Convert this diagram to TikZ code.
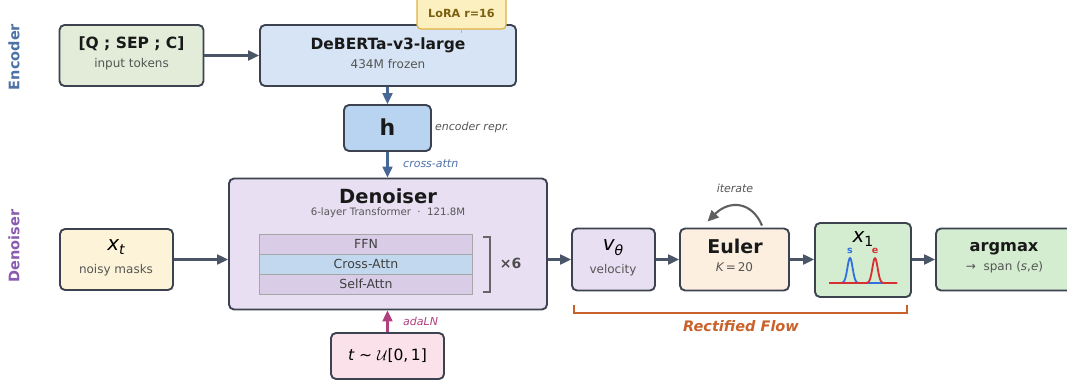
\documentclass[tikz,border=0pt]{standalone}
\usepackage{fontspec}
\setmainfont{DejaVu Sans}
\usetikzlibrary{arrows.meta,calc}

\definecolor{edgecol}{HTML}{3C4250}
\definecolor{arrowcol}{HTML}{4A5568}
\definecolor{enccol}{HTML}{4F72A6}
\definecolor{dencol}{HTML}{8A5CB0}
\definecolor{subgray}{HTML}{555555}
\definecolor{magentacol}{HTML}{B0407F}
\definecolor{orangecol}{HTML}{C8622A}
\definecolor{fillgreen}{HTML}{E2ECD9}
\definecolor{fillblue}{HTML}{D6E4F5}
\definecolor{fillh}{HTML}{B9D4F0}
\definecolor{fillpurple}{HTML}{E8E0F2}
\definecolor{filllayer}{HTML}{D8CCE6}
\definecolor{fillcross}{HTML}{C2D8EE}
\definecolor{fillyellow}{HTML}{FDF3D8}
\definecolor{fillpink}{HTML}{FBE2EA}
\definecolor{fillpeach}{HTML}{FCEFE0}
\definecolor{fillmint}{HTML}{D4ECD0}
\definecolor{lorafill}{HTML}{FDF0C0}
\definecolor{loraedge}{HTML}{E0B040}
\definecolor{loratext}{HTML}{7A6010}
\definecolor{peakblue}{HTML}{3070E0}
\definecolor{peakred}{HTML}{D83030}

\newcommand{\fs}[1]{\fontsize{#1}{#1}\selectfont}

\tikzset{
  box/.style={draw=edgecol, line width=1.9pt, rounded corners=5pt, inner sep=0pt},
  layer/.style={draw=gray!70, line width=0.9pt, minimum width=213, minimum height=20, inner sep=0pt, font=\fs{12.5}, text=black!75},
  title/.style={font=\fs{15.5}\bfseries, text=black!90, inner sep=0pt},
  bigtitle/.style={font=\fs{19.5}\bfseries, text=black!90, inner sep=0pt},
  sub/.style={font=\fs{12}, text=subgray, inner sep=0pt},
  note/.style={font=\fs{11}\itshape, inner sep=0pt},
  mathlab/.style={font=\fs{20}, inner sep=0pt},
  flow/.style={draw=arrowcol, line width=2.2pt, -{Triangle[length=11pt,width=10pt]}},
  side/.style={font=\fs{14.5}\bfseries, rotate=90, inner sep=0pt},
}

\begin{document}
\begin{tikzpicture}[x=1pt,y=-1pt]
\useasboundingbox (0,0) rectangle (1067,388);

% section labels
\node[side, text=enccol] (labEnc) at (14,57) {Encoder};
\node[side, text=dencol] (labDen) at (14,246) {Denoiser};

% encoder row
\node[box, fill=fillgreen, minimum width=144, minimum height=61] (inp) at (131.5,55.5) {};
\node[title] (inpT) at (131.5,44) {[Q ; SEP ; C]};
\node[sub] (inpS) at (131.5,64.5) {input tokens};

\node[box, fill=fillblue, minimum width=256, minimum height=61] (enc) at (388,55.5) {};
\node[title] (encT) at (388,45.5) {DeBERTa-v3-large};
\node[sub] (encS) at (388,64) {434M frozen};

\node[draw=loraedge, fill=lorafill, line width=1.2pt, rounded corners=4pt, minimum width=89, minimum height=37, inner sep=0pt] (lora) at (461.5,10.5) {};
\node[font=\fs{11.2}\bfseries, text=loratext, inner sep=0pt] (loraT) at (461.5,13) {LoRA r=16};
\coordinate (loraTip) at ($(lora.south)+(0,3)$);
\draw[loraedge, line width=1pt] (lora.south) -- (loraTip);

\node[box, fill=fillh, minimum width=87, minimum height=46] (h) at (387.5,128) {};
\node[font=\fs{22}\bfseries, text=black!90, inner sep=0pt] (hT) at (387.5,127) {h};
\node[note, text=subgray, anchor=west] (hN) at (435,127) {encoder repr.};

% denoiser block
\node[box, fill=fillpurple, minimum width=318, minimum height=131] (den) at (388,244) {};
\node[bigtitle] (denT) at (388,196.5) {Denoiser};
\node[font=\fs{10.2}, text=subgray, inner sep=0pt] (denS) at (388,212.5) {6-layer Transformer\ \ ·\ \ 121.8M};

\node[layer, fill=filllayer] (ffn) at (366,244) {FFN};
\node[layer, fill=fillcross] (xattn) at (366,264) {Cross-Attn};
\node[layer, fill=filllayer] (sattn) at (366,284) {Self-Attn};
\draw[gray!80!black, line width=1.4pt] (483,237) -- (490,237) -- (490,292) -- (483,292);
\node[font=\fs{14}\bfseries, text=black!70, inner sep=0pt] (times) at (510.5,263) {×6};

\node[box, fill=fillyellow, minimum width=113, minimum height=61] (xt) at (116.5,259.5) {};
\node[mathlab] (xtT) at (116,247) {\itshape x\raisebox{-0.4ex}{\fs{14}t}};
\node[sub] (xtS) at (116,270) {noisy masks};

\node[box, fill=fillpink, minimum width=113, minimum height=46] (tb) at (387.5,356) {};
\node[font=\fs{15.5}, inner sep=0pt] (tbT) at (387.5,356) {\itshape t\upshape\ ∼\ $\mathcal{U}$[0,\,1]};

% flow chain
\node[box, fill=fillpurple, minimum width=83, minimum height=62] (vel) at (613.5,259.5) {};
\node[mathlab] (velT) at (613,247.5) {\itshape v\raisebox{-0.4ex}{\fs{14}θ}};
\node[sub] (velS) at (613,270) {velocity};

\node[box, fill=fillpeach, minimum width=109, minimum height=62] (euler) at (734.5,259.5) {};
\node[font=\fs{19}\bfseries, text=black!90, inner sep=0pt] (eulerT) at (735,246.5) {Euler};
\node[sub] (eulerS) at (734.5,267.5) {\itshape K\upshape\,=\,20};

\node[box, fill=fillmint, minimum width=96, minimum height=74] (xone) at (863,260) {};
\node[mathlab] (xoneT) at (863,239) {\itshape x\upshape\raisebox{-0.45ex}{\fs{14}1}};
\draw[peakblue, line width=1.8pt] plot[domain=829:897, samples=120] (\x, {283 - 25*exp(-((\x-850)^2)/13.5)});
\draw[peakred, line width=1.8pt] plot[domain=829:897, samples=120] (\x, {283 - 25*exp(-((\x-875)^2)/13.5)});
\node[font=\fs{9.5}\bfseries, text=peakblue, inner sep=0pt] (sLab) at (850,250.5) {s};
\node[font=\fs{9.5}\bfseries, text=peakred, inner sep=0pt] (eLab) at (875,250.5) {e};

\node[box, fill=fillmint, minimum width=137, minimum height=62] (amax) at (1004.5,259.5) {};
\node[font=\fs{16.2}\bfseries, text=black!90, inner sep=0pt] (amaxT) at (1004,248.5) {argmax};
\node[sub] (amaxS) at (1004.5,267.5) {→\ \ span (\textit{s},\textit{e})};

% connectors
\draw[flow] (inp.east) -- (enc.west);
\draw[flow, draw=enccol!90!black] (enc.south -| h.north) -- (h.north);
\draw[flow, draw=enccol!90!black] (h.south) -- (den.north -| h.south);
\node[note, text=enccol, anchor=west] (caLab) at (403,164) {cross-attn};
\draw[flow] (xt.east) -- (xt.east -| den.west);
\draw[flow, draw=magentacol] (tb.north) -- (den.south -| tb.north);
\node[note, text=magentacol, anchor=west] (adaLab) at (403,321) {adaLN};
\draw[flow] (den.east |- vel.west) -- (vel.west);
\draw[flow] (vel.east) -- (euler.west);
\draw[flow] (euler.east) -- (euler.east -| xone.west);
\draw[flow] (xone.east |- amax.west) -- (amax.west);

% iteration loop
\coordinate (itA) at ($(euler.north)+(27.5,-2)$);
\coordinate (itB) at ($(euler.north)+(-27,-6)$);
\draw[draw=gray!75!black, line width=2.1pt, -{Triangle[length=11pt,width=10pt]}] (itA) .. controls ($(itA)+(-10,-24)$) and ($(itB)+(22,-22)$) .. (itB);
\node[note, text=subgray] (itLab) at (735,188) {iterate};

% rectified flow span
\draw[orangecol, line width=1.4pt] (574,305) -- (574,313) -- (907,313) -- (907,305);
\node[font=\fs{14.5}\bfseries\itshape, text=orangecol, inner sep=0pt] (rfLab) at (741,326) {Rectified Flow};
\end{tikzpicture}
\end{document}
